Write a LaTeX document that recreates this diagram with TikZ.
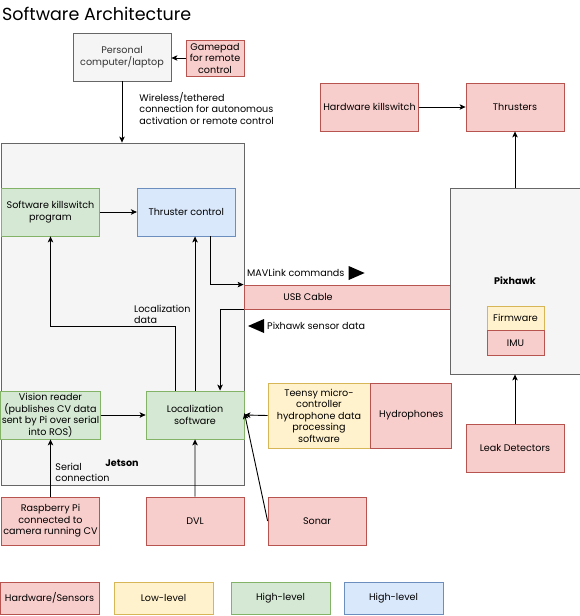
\documentclass[tikz,border=0pt]{standalone}
\usepackage{fontspec}
\setmainfont{Poppins}
\usepackage{tikz}
\usetikzlibrary{arrows.meta, positioning}
\usepackage{xcolor}

\definecolor{hwfill}{HTML}{F8CECC}
\definecolor{hwline}{HTML}{B85450}
\definecolor{lowfill}{HTML}{FFF2CC}
\definecolor{lowline}{HTML}{D6B656}
\definecolor{highfill}{HTML}{D5E8D4}
\definecolor{highline}{HTML}{82B366}
\definecolor{ctrlfill}{HTML}{DAE8FC}
\definecolor{ctrlline}{HTML}{6C8EBF}
\definecolor{greyfill}{HTML}{F5F5F5}
\definecolor{greyline}{HTML}{666666}
\definecolor{greytext}{HTML}{333333}

\begin{document}
\begin{tikzpicture}[
x=1pt, y=-1pt,
font=\fontsize{9.6}{11.5}\selectfont,
box/.style={rectangle, draw, line width=0.8pt, align=center, text centered, minimum height=48pt, minimum width=98pt, inner sep=1pt},
hw/.style={box, fill=hwfill, draw=hwline},
low/.style={box, fill=lowfill, draw=lowline},
high/.style={box, fill=highfill, draw=highline},
ctrl/.style={box, fill=ctrlfill, draw=ctrlline},
grey/.style={box, fill=greyfill, draw=greyline},
lbl/.style={align=left, inner sep=0pt},
arrow/.style={-{Stealth[length=6pt, width=5.5pt, inset=1.5pt]}, line width=0.9pt}
]

    \useasboundingbox (0,0) rectangle (580,616);

    \node[anchor=west, inner sep=0pt, font=\fontsize{17.5}{20}\selectfont] (title) at (2,14) {Software Architecture};

    \node[grey, minimum width=243pt, minimum height=342pt] (jetson) at (122.5,314) {};
    \node[font=\fontsize{9.6}{11.5}\selectfont\bfseries] (jetlbl) at (122,463) {Jetson};

    \node[grey, text=greytext] (pc) at (122,57) {Personal\\computer/laptop};
    \node[hw, minimum width=58pt, minimum height=36pt] (pad) at (215,58) {Gamepad\\for remote\\control};

    \node[high] (swkill) at (50.5,212) {Software killswitch\\program};
    \node[ctrl, right=37pt of swkill] (thr) {Thruster control};
    \node[high] (vision) at (50.5,415) {Vision reader\\(publishes CV data\\sent by Pi over serial\\into ROS)};
    \node[high, right=45pt of vision] (loc) {Localization\\software};

    \node[hw, minimum width=206pt, minimum height=24pt, label={[xshift=-39pt]center:USB Cable}] (usb) at (347,297) {};
    \node[lbl, anchor=west] (mavlbl) at (247,273) {MAVLink commands};
    \fill ([xshift=4pt]mavlbl.east) -- ++(0,-7) -- ++(16,7) -- ++(-16,7) -- cycle;
    \node[lbl, anchor=west] (senslbl) at (267,326) {Pixhawk sensor data};
    \fill ([xshift=-3pt]senslbl.west) -- ++(0,-7) -- ++(-16,7) -- ++(16,7) -- cycle;
    \node[lbl, anchor=west] (loclbl) at (134,314.5) {Localization\\data};

    \node[hw] (hwkill) at (369.5,107) {Hardware killswitch};
    \node[hw] (thrusters) at (515,107) {Thrusters};
    \node[grey, minimum width=130pt, minimum height=186pt, font=\fontsize{9.6}{11.5}\selectfont\bfseries] (pix) at (515,281) {Pixhawk};
    \node[low, minimum width=57pt, minimum height=24pt] (firm) at (515.5,318) {Firmware};
    \node[hw, minimum width=57pt, minimum height=25pt, below=0pt of firm] (imu) {IMU};
    \node[hw] (leak) at (515,448) {Leak Detectors};

    \node[low, minimum width=102pt, minimum height=65pt] (teensy) at (319,415.5) {Teensy micro-\\controller\\hydrophone data\\processing\\software};
    \node[hw, minimum width=81pt, minimum height=65pt, right=0pt of teensy] (hydro) {Hydrophones};

    \node[hw] (pi) at (50.5,521) {Raspberry Pi\\connected to\\camera running CV};
    \node[hw] (dvl) at (195,521) {DVL};
    \node[hw] (sonar) at (317,521) {Sonar};

    \node[hw, minimum width=99pt, minimum height=32pt] (keyhw) at (49.5,598) {Hardware/Sensors};
    \node[low, minimum width=99pt, minimum height=32pt] (keylow) at (163.5,598) {Low-level};
    \node[high, minimum width=99pt, minimum height=32pt] (keyhigh) at (280.5,598) {High-level};
    \node[ctrl, minimum width=99pt, minimum height=32pt] (keyctrl) at (393.5,598) {High-level};

    \draw[arrow] (pad.west) -- (pad.west -| pc.east);
    \draw[arrow] (pc.south) -- node[lbl, right=17pt, pos=0.44] {Wireless/tethered\\connection for autonomous\\activation or remote control} (pc.south |- jetson.north);
    \draw[arrow] (swkill) -- (thr);
    \draw[arrow] ([xshift=24pt]thr.south) |- (usb.north west);
    \draw[arrow] (usb.south west) -| ([xshift=25pt]loc.north);
    \draw[arrow] ([xshift=-20pt]loc.north) -- ++(0,-64) -| (swkill.south);
    \draw[arrow] (loc.north) -- (loc.north |- thr.south);
    \draw[arrow] (vision) -- (loc);
    \draw[arrow] (pi) -- node[lbl, right=4.5pt, pos=0.42] {Serial\\connection} (vision);
    \draw[arrow] (dvl) -- (loc);
    \draw[arrow] (teensy.west) -- (loc.east);
    \draw[arrow] (sonar.west) -- ([yshift=2pt]loc.east);
    \draw[arrow] (hwkill) -- (thrusters);
    \draw[arrow] (pix) -- (thrusters);
    \draw[arrow] (leak) -- (pix);

\end{tikzpicture}
\end{document}
